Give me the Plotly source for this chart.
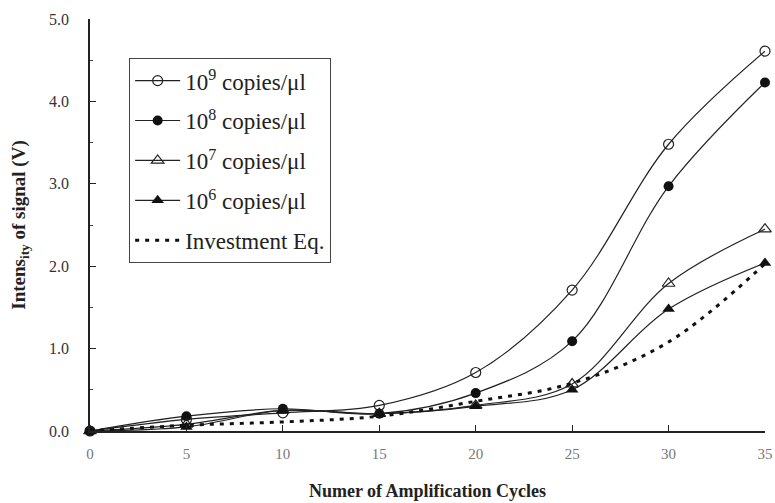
import plotly.graph_objects as go

cycles = [0, 5, 10, 15, 20, 25, 30, 35]
c1e9 = [0.0, 0.14, 0.22, 0.31, 0.71, 1.71, 3.48, 4.61]
c1e8 = [0.0, 0.18, 0.27, 0.21, 0.46, 1.09, 2.97, 4.23]
c1e7 = [0.0, 0.08, 0.25, 0.21, 0.31, 0.57, 1.79, 2.45]
c1e6 = [0.0, 0.05, 0.25, 0.21, 0.30, 0.50, 1.48, 2.04]
invest = [0.0, 0.07, 0.11, 0.18, 0.36, 0.58, 1.08, 2.03]

names = ["10<sup>9</sup> copies/μl", "10<sup>8</sup> copies/μl",
         "10<sup>7</sup> copies/μl", "10<sup>6</sup> copies/μl", "Investment Eq."]

FONT = "Liberation Serif, Times New Roman, serif"
fig = go.Figure()

series = [
    (c1e9, dict(symbol="circle-open", size=10, color="#222", line=dict(width=1.2, color="#222"))),
    (c1e8, dict(symbol="circle", size=10, color="#111")),
    (c1e7, dict(symbol="triangle-up-open", size=11, color="#222", line=dict(width=1.2, color="#222"))),
    (c1e6, dict(symbol="triangle-up", size=11, color="#111")),
]
for i, (vals, mk) in enumerate(series):
    fig.add_trace(go.Scatter(
        x=cycles, y=vals, mode="lines+markers", name=names[i],
        line=dict(color="#222", width=1.2, shape="spline", smoothing=1),
        marker=mk, legendgroup=str(i), cliponaxis=False))

fig.add_trace(go.Scatter(
    x=cycles, y=invest, mode="lines", name=names[4],
    line=dict(color="#111", width=3, dash="4px,6px", shape="spline", smoothing=1),
    legendgroup="4", cliponaxis=False))

fig.update_layout(
    width=775, height=503,
    paper_bgcolor="white", plot_bgcolor="white",
    margin=dict(l=90, r=10, t=19, b=72),
    font=dict(family=FONT, color="#222"),
    showlegend=True,
    legend=dict(
        x=0.058, y=0.905, xanchor="left", yanchor="top",
        bordercolor="#444", borderwidth=1, bgcolor="white",
        font=dict(size=23, family=FONT, color="#222"),
        traceorder="grouped", tracegroupgap=7, itemwidth=45,
    ),
    xaxis=dict(
        range=[0, 35], tickvals=cycles, ticktext=[str(c) for c in cycles],
        showline=True, linecolor="#222", linewidth=1.5, showgrid=False, zeroline=False,
        ticks="inside", ticklen=6, tickcolor="#222",
        tickfont=dict(size=15, family=FONT, color="#777"),
        ticklabelstandoff=8, automargin=False,
        title=dict(text="<b>Numer of Amplification Cycles</b>",
                   font=dict(size=18, family=FONT, color="#222"), standoff=24),
    ),
    yaxis=dict(
        range=[0, 5], tickvals=[0, 1, 2, 3, 4, 5],
        ticktext=["0.0", "1.0", "2.0", "3.0", "4.0", "5.0"],
        showline=True, linecolor="#222", linewidth=1.5, showgrid=False, zeroline=False,
        ticks="inside", ticklen=6, tickcolor="#222",
        minor=dict(tickvals=[0.5, 1.5, 2.5, 3.5, 4.5], ticks="inside", ticklen=3, tickcolor="#444"),
        tickfont=dict(size=16, family=FONT, color="#333"),
        ticklabelstandoff=16, automargin=False,
        title=dict(text="<b>Intens<sub>ity</sub> of signal (V)</b>",
                   font=dict(size=19, family=FONT, color="#222"), standoff=18),
    ),
)

fig.write_html("out.html", config={"displayModeBar": False},
               post_script="document.body.style.margin='0';")
